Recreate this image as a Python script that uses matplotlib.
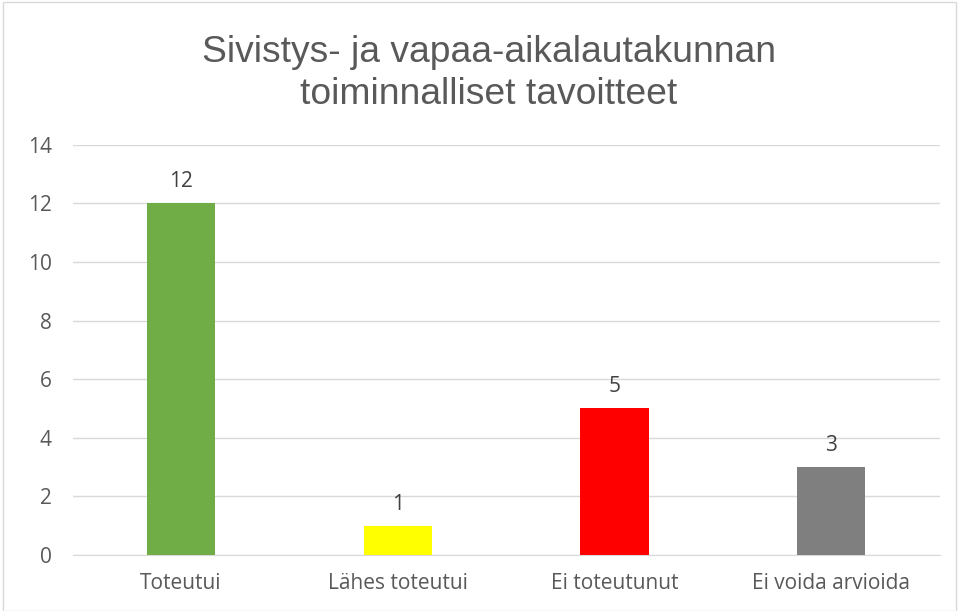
import matplotlib
matplotlib.use("Agg")
from matplotlib import pyplot as plt
from matplotlib.patches import Rectangle

categories = ["Toteutui", "Lähes toteutui", "Ei toteutunut", "Ei voida arvioida"]
values = [12, 1, 5, 3]
colors = ["#70AD47", "#FFFF00", "#FF0000", "#7F7F7F"]
yticks = [0, 2, 4, 6, 8, 10, 12, 14]

plt.rcParams['font.family'] = ['Open Sans', 'DejaVu Sans']

fig = plt.figure(figsize=(9.59, 6.11), dpi=100)
ax = fig.add_axes([0.0758, 0.0917, 0.904, 0.6715])

x = range(len(categories))
bars = ax.bar(x, values, width=0.314, color=colors, zorder=3)
for i, v in enumerate(values):
    ax.text(i, v + 0.38, str(v), ha="center", va="bottom", fontsize=15, color="#404040")

ax.set_xlim(-0.5, len(categories) - 0.5)
ax.set_ylim(0, 14)
ax.set_yticks(yticks)
ax.set_xticks(list(x))
ax.set_xticklabels(categories)
ax.tick_params(axis="both", length=0, labelsize=15, labelcolor="#595959")
ax.tick_params(axis="y", pad=15)
ax.tick_params(axis="x", pad=13)
ax.grid(axis="y", color="#D9D9D9", linewidth=1, zorder=0)
for s in ["top", "right", "left"]:
    ax.spines[s].set_visible(False)
ax.spines["bottom"].set_color("#D9D9D9")

fig.text(0.51, 0.880, "Sivistys- ja vapaa-aikalautakunnan\ntoiminnalliset tavoitteet",
         ha="center", va="center", fontsize=26.8, color="#595959", linespacing=1.25,
         family=["Liberation Sans", "DejaVu Sans"])

fig.patches.append(Rectangle((0.003, 0.0), 0.994, 0.997, transform=fig.transFigure,
                             fill=False, edgecolor="#D9D9D9", linewidth=1))

plt.savefig("out.png", dpi=100)
